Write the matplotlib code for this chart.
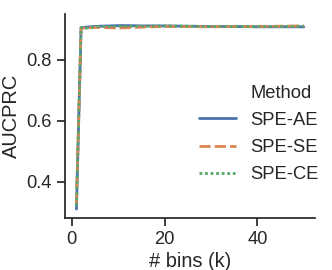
import matplotlib
matplotlib.use('Agg')
import matplotlib.pyplot as plt
from matplotlib.lines import Line2D
import seaborn as sns

# number of bins k and AUCPRC per method
bins = [1, 2, 3, 4, 5, 6, 8, 10, 12, 15, 20, 25, 30, 35, 40, 45, 50]
spe_ae = [0.310, 0.905, 0.908, 0.909, 0.910, 0.911, 0.912, 0.913, 0.913, 0.912,
          0.912, 0.911, 0.910, 0.910, 0.909, 0.909, 0.909]
spe_se = [0.330, 0.906, 0.905, 0.906, 0.907, 0.907, 0.906, 0.905, 0.906, 0.908,
          0.910, 0.910, 0.909, 0.910, 0.910, 0.911, 0.912]
spe_ce = [0.320, 0.907, 0.904, 0.908, 0.909, 0.910, 0.910, 0.911, 0.911, 0.911,
          0.912, 0.911, 0.910, 0.910, 0.910, 0.910, 0.911]
methods = ['SPE-AE', 'SPE-SE', 'SPE-CE']

sns.set_theme(style='ticks', context='notebook', font_scale=1.2)
plt.rcParams['font.family'] = ['Liberation Sans', 'DejaVu Sans']

colors = sns.color_palette('deep', 3)
dashes = [(None, None), (4, 1.5), (1, 1)]

fig = plt.figure(figsize=(3.32, 2.7), dpi=100)
ax = fig.add_axes([0.196, 0.193, 0.753, 0.755])
for vals, name, c, d in zip([spe_ae, spe_se, spe_ce], methods, colors, dashes):
    line, = ax.plot(bins, vals, color=c, lw=2, label=name)
    if d[0] is not None:
        line.set_dashes(d)
ax.set_ylim(0.281, 0.951)
ax.set_xlabel('# bins (k)', labelpad=3)
ax.set_ylabel('AUCPRC')
sns.despine(ax=ax)

handles, labels = ax.get_legend_handles_labels()
title = Line2D([], [], linestyle='', marker='')
ax.legend([title] + handles, ['Method'] + labels, frameon=False,
          loc='lower right', bbox_to_anchor=(1.08, 0.09), labelspacing=0.55)

fig.savefig('out.png', dpi=100)
